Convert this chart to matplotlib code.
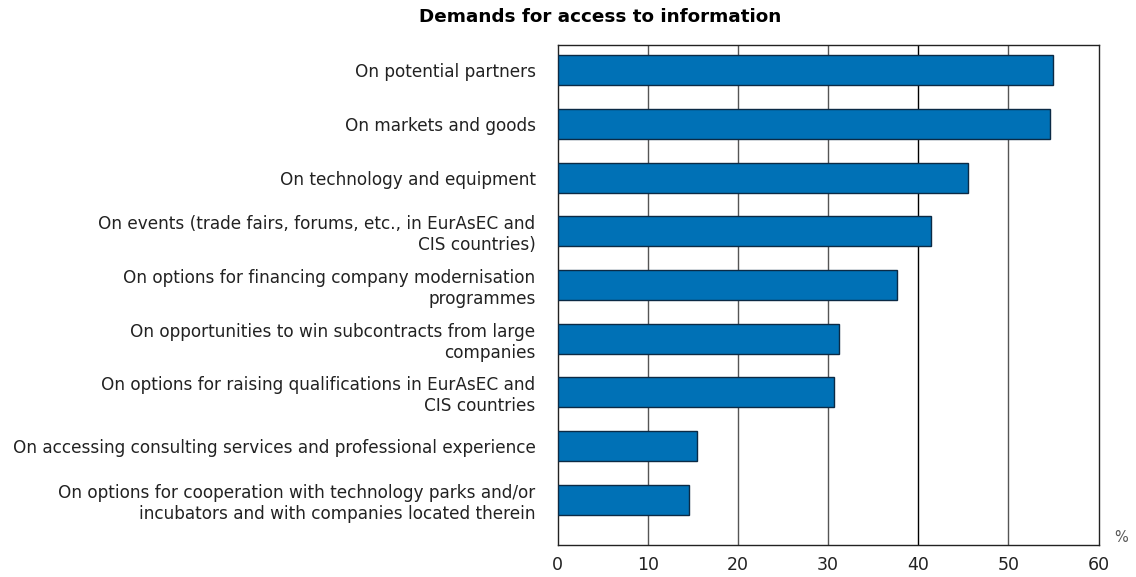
import matplotlib.pyplot as plt

# survey answers, top to bottom
labels = [
    "On potential partners",
    "On markets and goods",
    "On technology and equipment",
    "On events (trade fairs, forums, etc., in EurAsEC and\nCIS countries)",
    "On options for financing company modernisation\nprogrammes",
    "On opportunities to win subcontracts from large\ncompanies",
    "On options for raising qualifications in EurAsEC and\nCIS countries",
    "On accessing consulting services and professional experience",
    "On options for cooperation with technology parks and/or\nincubators and with companies located therein",
]
values = [54.9, 54.6, 45.5, 41.4, 37.6, 31.2, 30.7, 15.5, 14.6]
xticks = [0, 10, 20, 30, 40, 50, 60]

plt.rcParams['font.family'] = ['DejaVu Sans']

fig = plt.figure(figsize=(11.36, 5.77), dpi=100)
ax = fig.add_axes([0.491, 0.0555, 0.476, 0.8665])

pos = list(range(len(values)))
ax.barh(pos, values, height=0.56, color='#0071b6', edgecolor='#0b2a45',
        linewidth=1.0, zorder=3)

ax.set_xlim(0, 60)
ax.set_ylim(8.84, -0.47)
for x in xticks[1:-1]:
    ax.axvline(x, color='#555555' if x != 40 else 'black', lw=1.0, zorder=1)

ax.set_yticks(pos)
ax.set_yticklabels(labels, fontsize=12.2, color='#222222', ha='right',
                   multialignment='right', linespacing=1.2)
ax.set_xticks(xticks)
ax.set_xticklabels([str(x) for x in xticks], fontsize=12.5, color='#222222')
ax.tick_params(axis='both', length=0)
ax.tick_params(axis='x', pad=8)
ax.tick_params(axis='y', pad=16)

for s in ax.spines.values():
    s.set_color('#222222')
    s.set_linewidth(1.0)

fig.text(1114 / 1136, 1 - 537 / 577, "%", fontsize=10.5, color='#555555',
         ha='left', va='center')
fig.text(600 / 1136, 1 - 17 / 577, "Demands for access to information",
         fontsize=13.2, fontweight='bold', ha='center', va='center')

fig.savefig("out.png", dpi=100)
